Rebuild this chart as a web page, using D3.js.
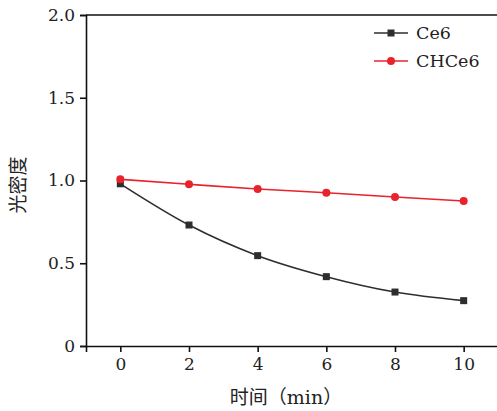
<!DOCTYPE html>
<html lang="zh">
<head>
    <meta charset="UTF-8">
    <title>光密度</title>
    <script src="https://d3js.org/d3.v7.min.js" charset="utf-8"></script>
    <style>
        body { margin: 0; background: #fff; }
        .axis path,
        .axis line {
            fill: none;
            stroke: #111;
            stroke-width: 1.6px;
        }
        .axis text {
            font-family: "DejaVu Serif", "Liberation Serif", serif;
            font-size: 17px;
            fill: #222;
        }
    </style>
</head>
<body>
<script>
    // 数据
    let times = [0, 2, 4, 6, 8, 10];
    let ce6 = [0.98, 0.731, 0.546, 0.419, 0.326, 0.274];
    let chce6 = [1.007, 0.977, 0.949, 0.926, 0.900, 0.876];
    let xTicks = [0, 2, 4, 6, 8, 10];
    let yTicks = [0, 0.5, 1.0, 1.5, 2.0];

    let W = 497, H = 411;
    let svg = d3.select('body').append('svg').attr('width', W).attr('height', H);

    let mLeft = 86, mTop = 15, mRight = 498, mBottom = 346;
    let x = d3.scaleLinear().domain([-1, 11]).range([mLeft, mRight]);
    let y = d3.scaleLinear().domain([0, 2]).range([mBottom, mTop]);

    // 上边框
    svg.append('line')
        .attr('x1', mLeft).attr('x2', W).attr('y1', mTop).attr('y2', mTop)
        .attr('stroke', '#111').attr('stroke-width', 1.6);

    svg.append('g').attr('class', 'axis')
        .attr('transform', 'translate(0,' + mBottom + ')')
        .call(d3.axisBottom(x).tickValues(xTicks).tickSizeOuter(0).tickSize(6).tickPadding(6));

    svg.append('g').attr('class', 'axis')
        .attr('transform', 'translate(' + mLeft + ',0)')
        .call(d3.axisLeft(y).tickValues(yTicks).tickSizeOuter(0).tickSize(6).tickPadding(5)
            .tickFormat(d => d === 0 ? '0' : d3.format('.1f')(d)));

    let series = [
        {name: 'Ce6', values: ce6, color: '#2e2e2e', shape: 'square'},
        {name: 'CHCe6', values: chce6, color: '#e8232b', shape: 'circle'}
    ];

    let line = d3.line()
        .x((d, i) => x(times[i]))
        .y(d => y(d))
        .curve(d3.curveMonotoneX);

    series.forEach(function (s) {
        svg.append('path')
            .datum(s.values)
            .attr('d', line)
            .attr('fill', 'none')
            .attr('stroke', s.color)
            .attr('stroke-width', 1.6);
        if (s.shape === 'square') {
            svg.selectAll('.sq').data(s.values).enter()
                .append('rect')
                .attr('x', (d, i) => x(times[i]) - 3.5)
                .attr('y', d => y(d) - 3.5)
                .attr('width', 7).attr('height', 7)
                .attr('fill', s.color);
        } else {
            svg.selectAll('.ci').data(s.values).enter()
                .append('circle')
                .attr('cx', (d, i) => x(times[i]))
                .attr('cy', d => y(d))
                .attr('r', 4)
                .attr('fill', s.color);
        }
    });

    // 图例
    let legend = svg.append('g').attr('transform', 'translate(374,33)');
    series.forEach(function (s, i) {
        let g = legend.append('g').attr('transform', 'translate(0,' + i * 28 + ')');
        g.append('line').attr('x1', 0).attr('x2', 34).attr('y1', 0).attr('y2', 0)
            .attr('stroke', s.color).attr('stroke-width', 1.6);
        if (s.shape === 'square') {
            g.append('rect').attr('x', 13.5).attr('y', -3.5).attr('width', 7).attr('height', 7).attr('fill', s.color);
        } else {
            g.append('circle').attr('cx', 17).attr('cy', 0).attr('r', 4).attr('fill', s.color);
        }
        g.append('text').attr('x', 42).attr('y', 6)
            .attr('font-family', '"DejaVu Serif", "Liberation Serif", serif')
            .attr('font-size', 17.5).attr('fill', '#222')
            .text(s.name);
    });

    // 坐标轴标题
    svg.append('text')
        .attr('transform', 'translate(25,185) rotate(-90)')
        .attr('text-anchor', 'middle')
        .attr('font-family', '"Noto Sans CJK SC", sans-serif')
        .attr('font-size', 19).attr('fill', '#222')
        .text('光密度');

    svg.append('text')
        .attr('x', 286).attr('y', 404)
        .attr('text-anchor', 'middle')
        .attr('font-family', '"DejaVu Serif", "Noto Sans CJK SC", serif')
        .attr('font-size', 19).attr('fill', '#222')
        .text('时间（min）');
</script>
</body>
</html>
